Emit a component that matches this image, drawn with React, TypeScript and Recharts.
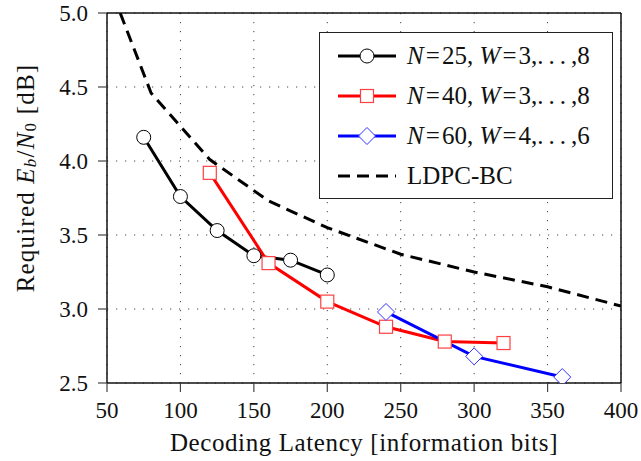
import React from 'react';
import { LineChart, Line, XAxis, YAxis, CartesianGrid, ReferenceLine } from 'recharts';

// latency [information bits] vs required Eb/N0 [dB]
const n25Latency = [75, 100, 125, 150, 175, 200];
const n25Ebn0 = [4.16, 3.76, 3.53, 3.36, 3.33, 3.23];

const n40Latency = [120, 160, 200, 240, 280, 320];
const n40Ebn0 = [3.92, 3.31, 3.05, 2.88, 2.78, 2.77];

const n60Latency = [240, 300, 360];
const n60Ebn0 = [2.98, 2.68, 2.54];

const ldpcLatency = [59, 80, 120, 160, 200, 250, 300, 350, 400];
const ldpcEbn0 = [5.0, 4.46, 4.01, 3.73, 3.55, 3.37, 3.25, 3.15, 3.02];

const xTicks = [50, 100, 150, 200, 250, 300, 350, 400];
const yTicks = [2.5, 3.0, 3.5, 4.0, 4.5, 5.0];

const zip = (xs: number[], ys: number[]) => xs.map((x, i) => ({ x, y: ys[i] }));

const n25Data = zip(n25Latency, n25Ebn0);
const n40Data = zip(n40Latency, n40Ebn0);
const n60Data = zip(n60Latency, n60Ebn0);
const ldpcData = zip(ldpcLatency, ldpcEbn0);

const FONT = '"Liberation Serif", "Times New Roman", serif';

const CircleDot = (props: any) => (
  <circle key={`c${props.index}`} cx={props.cx} cy={props.cy} r={7} fill="#fff" stroke="#000" strokeWidth={1} />
);

const SquareDot = (props: any) => (
  <rect key={`s${props.index}`} x={props.cx - 6.5} y={props.cy - 6.5} width={13} height={13} fill="#fff" stroke="#ff4040" strokeWidth={1.2} />
);

const DiamondDot = (props: any) => {
  const { cx, cy } = props;
  const r = 8.5;
  return (
    <polygon
      key={`d${props.index}`}
      points={`${cx},${cy - r} ${cx + r},${cy} ${cx},${cy + r} ${cx - r},${cy}`}
      fill="#fff"
      stroke="#3030ff"
      strokeWidth={1}
    />
  );
};

const LegendIcon = ({ kind }: { kind: string }) => {
  if (kind === 'ldpc') {
    return (
      <svg width={60} height={20}>
        <line x1={1} y1={10} x2={59} y2={10} stroke="#000" strokeWidth={3} strokeDasharray="12 7" />
      </svg>
    );
  }
  const color = kind === 'n25' ? '#000' : kind === 'n40' ? '#ff0000' : '#0000ff';
  return (
    <svg width={60} height={20}>
      <line x1={1} y1={10} x2={59} y2={10} stroke={color} strokeWidth={3} />
      {kind === 'n25' && <circle cx={30} cy={10} r={7} fill="#fff" stroke="#000" strokeWidth={1} />}
      {kind === 'n40' && <rect x={23.5} y={3.5} width={13} height={13} fill="#fff" stroke="#ff4040" strokeWidth={1.2} />}
      {kind === 'n60' && <polygon points="30,1.5 38.5,10 30,18.5 21.5,10" fill="#fff" stroke="#3030ff" strokeWidth={1} />}
    </svg>
  );
};

const ChartLegend = () => {
  const row = (kind: string, label: React.ReactNode) => (
    <div style={{ display: 'flex', alignItems: 'center', height: 40 }}>
      <LegendIcon kind={kind} />
      <span style={{ marginLeft: 10, whiteSpace: 'nowrap' }}>{label}</span>
    </div>
  );
  return (
    <div
      style={{
        position: 'absolute',
        left: 319,
        top: 32,
        width: 294,
        height: 167,
        border: '1.5px solid #222',
        background: '#fff',
        boxSizing: 'border-box',
        padding: '3px 0 0 17px',
        fontFamily: FONT,
        fontSize: 25,
        color: '#111',
      }}
    >
      {row('n25', <><i>N</i>&#8202;=&#8202;25, <i>W</i>&#8202;=&#8202;3,.&#8201;.&#8201;.&#8201;,8</>)}
      {row('n40', <><i>N</i>&#8202;=&#8202;40, <i>W</i>&#8202;=&#8202;3,.&#8201;.&#8201;.&#8201;,8</>)}
      {row('n60', <><i>N</i>&#8202;=&#8202;60, <i>W</i>&#8202;=&#8202;4,.&#8201;.&#8201;.&#8201;,6</>)}
      {row('ldpc', <>LDPC-BC</>)}
    </div>
  );
};

const YLabel = () => {
  const cx = 25;
  const cy = 178;
  return (
    <text
      x={cx}
      y={cy}
      transform={`rotate(-90, ${cx}, ${cy})`}
      textAnchor="middle"
      dominantBaseline="central"
      fontFamily={FONT}
      fontSize={25}
      letterSpacing={1.2}
      fill="#111"
    >
      Required <tspan fontStyle="italic">E</tspan>
      <tspan fontStyle="italic" fontSize={17} dy={5}>b</tspan>
      <tspan dy={-5}>/</tspan>
      <tspan fontStyle="italic">N</tspan>
      <tspan fontSize={17} dy={5}>0</tspan>
      <tspan dy={-5}> [dB]</tspan>
    </text>
  );
};

export default function App() {
  const tickStyle = { fontFamily: FONT, fontSize: 23, fill: '#111' };
  return (
    <div style={{ position: 'absolute', left: 0, top: 0, width: 641, height: 461, background: '#fff' }}>
      <LineChart width={641} height={461} margin={{ top: 13, right: 20, left: 0, bottom: 0 }}>
        <CartesianGrid stroke="#444" strokeDasharray="1.2 7.8" />
        <XAxis
          type="number"
          dataKey="x"
          domain={[50, 400]}
          ticks={xTicks}
          allowDataOverflow
          height={78}
          tick={tickStyle}
          tickSize={9}
          tickMargin={10}
          axisLine={{ stroke: '#111', strokeWidth: 1.5 }}
          tickLine={{ stroke: '#444', strokeWidth: 1.2 }}
          label={{ value: 'Decoding Latency [information bits]', position: 'insideBottom', offset: 10, style: { fontFamily: FONT, fontSize: 25, letterSpacing: 0.6, fill: '#111' } }}
        />
        <YAxis
          type="number"
          dataKey="y"
          domain={[2.5, 5]}
          ticks={yTicks}
          allowDataOverflow
          width={107}
          tick={tickStyle}
          tickSize={9}
          tickMargin={10}
          tickFormatter={(v: number) => v.toFixed(1)}
          axisLine={{ stroke: '#111', strokeWidth: 1.5 }}
          tickLine={{ stroke: '#444', strokeWidth: 1.2 }}
          label={<YLabel />}
        />
        <ReferenceLine y={5} stroke="#111" strokeWidth={1.5} />
        <ReferenceLine x={400} stroke="#111" strokeWidth={1.5} />
        <Line data={n25Data} dataKey="y" name="N=25" stroke="#000" strokeWidth={3} dot={CircleDot} isAnimationActive={false} />
        <Line data={n40Data} dataKey="y" name="N=40" stroke="#ff0000" strokeWidth={3} dot={SquareDot} isAnimationActive={false} />
        <Line data={n60Data} dataKey="y" name="N=60" stroke="#0000ff" strokeWidth={3} dot={DiamondDot} isAnimationActive={false} />
        <Line data={ldpcData} dataKey="y" name="LDPC-BC" stroke="#000" strokeWidth={3} strokeDasharray="12 7" dot={false} isAnimationActive={false} />
      </LineChart>
      <ChartLegend />
    </div>
  );
}
